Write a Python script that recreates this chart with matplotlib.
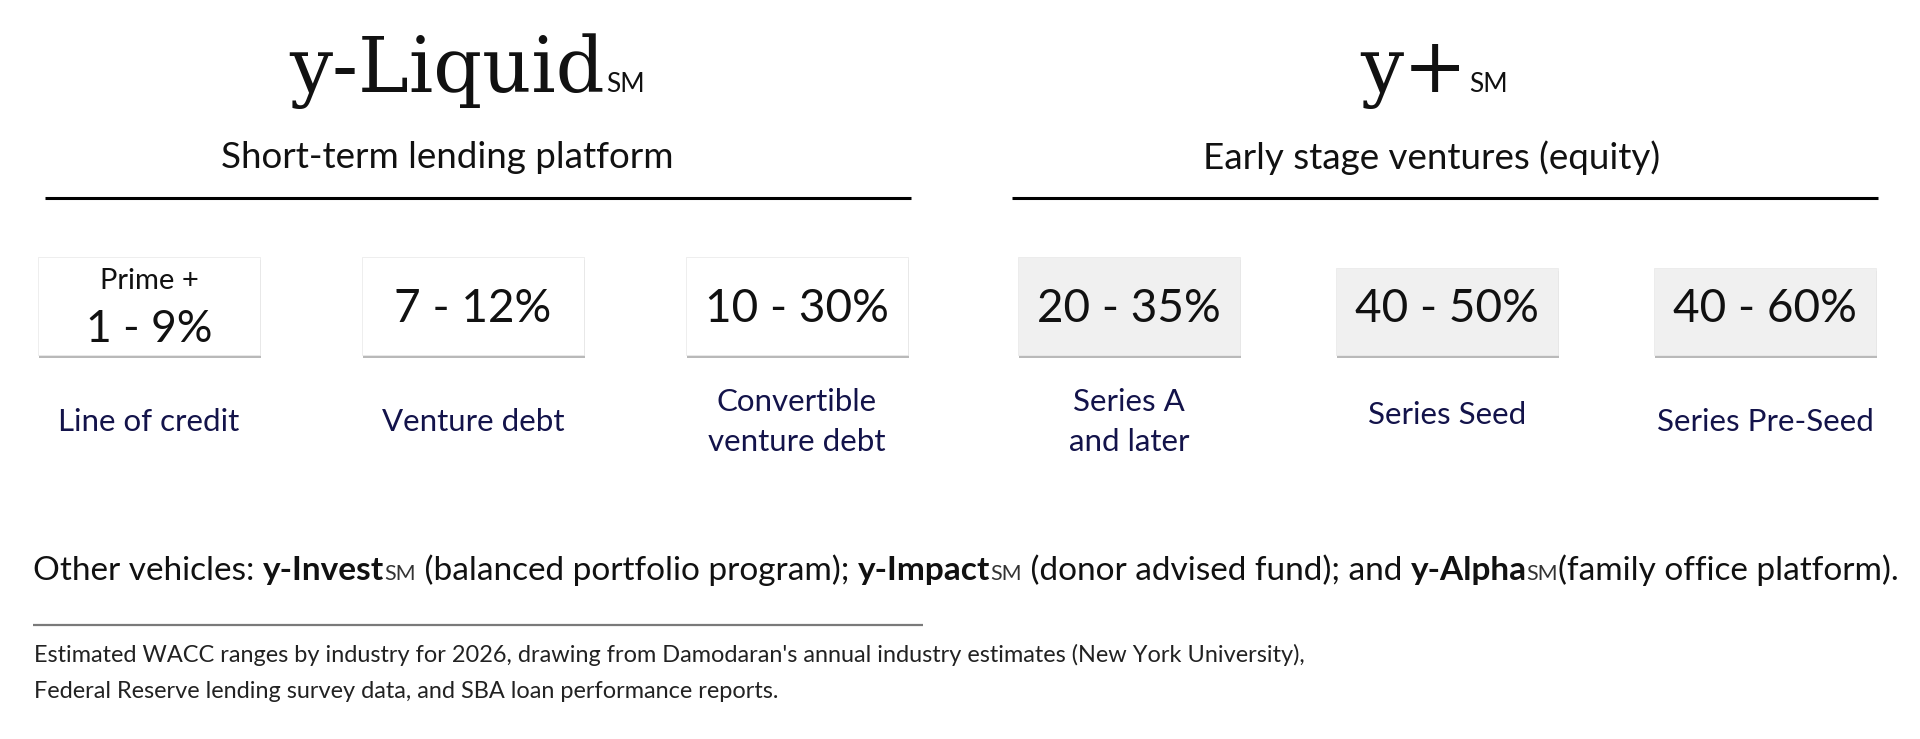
import matplotlib
matplotlib.use("Agg")
import matplotlib.pyplot as plt
from matplotlib.patches import Rectangle

# ---------------- data ----------------
group_names = ["y-Liquid", "y+"]
group_mark = "SM"
group_subtitles = ["Short-term lending platform", "Early stage ventures (equity)"]
range_prefixes = ["Prime +", "", "", "", "", ""]
range_texts = ["1 - 9%", "7 - 12%", "10 - 30%", "20 - 35%", "40 - 50%", "40 - 60%"]
vehicle_labels = ["Line of credit", "Venture debt", "Convertible\nventure debt",
                  "Series A\nand later", "Series Seed", "Series Pre-Seed"]
vehicle_group = [0, 0, 0, 1, 1, 1]
other_pieces = [("Other vehicles: ", "n"), ("y-Invest", "b"), ("SM", "s"),
                (" (balanced portfolio program); ", "n"), ("y-Impact", "b"), ("SM", "s"),
                (" (donor advised fund); and ", "n"), ("y-Alpha", "b"), ("SM", "s"),
                ("(family office platform).", "n")]
footnote_lines = ["Estimated WACC ranges by industry for 2026, drawing from Damodaran's annual industry estimates (New York University),",
                  "Federal Reserve lending survey data, and SBA loan performance reports."]

# ---------------- layout ----------------
W, H = 1920, 739
SANS = ["Lato", "DejaVu Sans"]
SERIF = ["DejaVu Serif"]
NAVY = "#13134a"
INK = "#111111"

fig = plt.figure(figsize=(W / 100, H / 100), dpi=100)
fig.patch.set_facecolor("white")
ax = fig.add_axes([0, 0, 1, 1])
ax.set_xlim(0, W)
ax.set_ylim(H, 0)
ax.axis("off")
renderer = fig.canvas.get_renderer()


def twidth(s, **kw):
    t1 = ax.text(0, 0, "|" + s + "|", **kw)
    t2 = ax.text(0, 0, "||", **kw)
    w = t1.get_window_extent(renderer).width - t2.get_window_extent(renderer).width
    t1.remove()
    t2.remove()
    return w


group_centers = [478, 1445]
subtitle_shift = [-31, -13]
line_half = 433
title_kw = dict(family=SERIF, fontsize=55, color=INK)
mark_kw = dict(family=SANS, fontsize=19, color=INK)
for g, name in enumerate(group_names):
    wb = twidth(name, **title_kw)
    wm = twidth(group_mark, **mark_kw)
    x0 = group_centers[g] - 12 - (wb + wm) / 2
    ax.text(x0, 92, name, ha="left", va="baseline", **title_kw)
    ax.text(x0 + wb + 2, 92, group_mark, ha="left", va="baseline", **mark_kw)
    ax.text(group_centers[g] + subtitle_shift[g], 158, group_subtitles[g], ha="center",
            va="center", family=SANS, fontsize=26.5, color=INK)
    ax.plot([group_centers[g] - line_half, group_centers[g] + line_half], [198, 198],
            color="black", lw=2.2, solid_capstyle="butt")

box_w, box_h = 222, 99
group_start = [38, 1018]
group_step = [324, 318]
for i, rt in enumerate(range_texts):
    g = vehicle_group[i]
    j = i - vehicle_group.index(g)
    left = group_start[g] + j * group_step[g]
    top = 257 + (11 if i >= 4 else 0)
    bottom = 256 + box_h
    cx = left + box_w / 2
    fill = "#ffffff" if g == 0 else "#f0f0f0"
    ax.add_patch(Rectangle((left + 0.5, top + 2.5), box_w, bottom - top,
                           facecolor="#a8a8a8", edgecolor="none", alpha=0.8, zorder=1))
    ax.add_patch(Rectangle((left, top), box_w, bottom - top,
                           facecolor=fill, edgecolor="#ebebeb", lw=0.6, zorder=2))
    if range_prefixes[i]:
        ax.text(cx, 281, range_prefixes[i], ha="center", va="center",
                family=SANS, fontsize=21, color=INK, zorder=3)
        ax.text(cx, 330, rt, ha="center", va="center",
                family=SANS, fontsize=32, color=INK, zorder=3)
    else:
        ax.text(cx, 309, rt, ha="center", va="center",
                family=SANS, fontsize=33, color=INK, zorder=3)
    ax.text(cx, 422 if i != 4 else 415, vehicle_labels[i], ha="center", va="center",
            family=SANS, fontsize=22.5, color=NAVY, linespacing=1.5)

# other vehicles line with mixed styles
styles = {"n": dict(family=SANS, fontsize=24, color=INK),
          "b": dict(family=SANS, fontsize=24, weight="bold", color=INK),
          "s": dict(family=SANS, fontsize=15.5, color="#333333")}
x = 33
for txt, st in other_pieces:
    ax.text(x, 580, txt, ha="left", va="baseline", **styles[st])
    x += twidth(txt, **styles[st])

ax.plot([33, 923], [625, 625], color="#7a7a7a", lw=1.6, solid_capstyle="butt")
for k, line in enumerate(footnote_lines):
    ax.text(34, 655 + k * 36, line, ha="left", va="center",
            family=SANS, fontsize=16.9, color="#222222")

fig.savefig("out.png", dpi=100, facecolor="white")
